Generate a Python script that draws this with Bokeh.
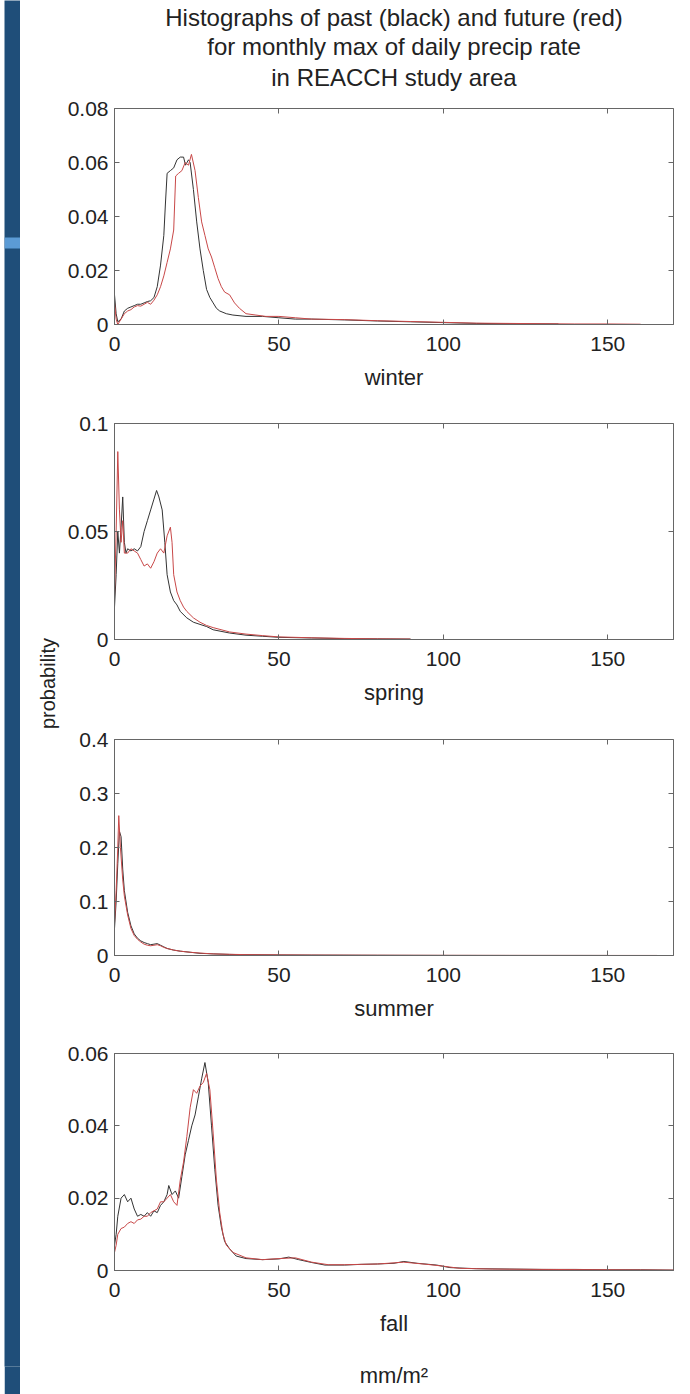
from bokeh.plotting import figure
from bokeh.layouts import row, column
from bokeh.models import Range1d, FixedTicker, NumeralTickFormatter, LinearAxis, BoxAnnotation, Title, Spacer
from bokeh.embed import file_html
from bokeh.resources import INLINE

FONT = "Liberation Sans"
BLACK = "#333333"
RED = "#c84848"

x_ticks = [0, 50, 100, 150]

title_lines = ["Histographs of past (black) and future (red)",
               "for monthly max of daily precip rate",
               "in REACCH study area"]

# ---------------- winter ----------------
winter_past_x = [0, 0.5, 1, 2, 3, 4, 5, 6, 7, 8, 9, 10, 11, 12, 13, 14, 15, 15.5, 16, 17, 18, 19, 20, 21, 21.6, 22.5, 23, 24, 25, 26, 27, 28, 29, 30, 31, 32, 34, 36, 40, 45, 50, 55, 60, 70, 80, 90, 100, 110, 120, 135]
winter_past_y = [0.011, 0.004, 0.001, 0.002, 0.005, 0.006, 0.0065, 0.007, 0.0075, 0.0075, 0.008, 0.0085, 0.0088, 0.010, 0.014, 0.022, 0.033, 0.045, 0.056, 0.057, 0.058, 0.061, 0.062, 0.062, 0.059, 0.061, 0.060, 0.050, 0.038, 0.028, 0.020, 0.013, 0.010, 0.008, 0.006, 0.005, 0.004, 0.0035, 0.003, 0.003, 0.0025, 0.002, 0.002, 0.0017, 0.0013, 0.001, 0.0007, 0.0004, 0.0003, 0.0002]
winter_future_x = [0, 0.5, 1, 2, 3, 4, 5, 6, 7, 8, 9, 10, 11, 12, 13, 14, 15, 16, 17, 18, 18.6, 19.5, 20.5, 21.5, 22.5, 23.4, 24.5, 25.5, 26.5, 27.5, 28.5, 29.5, 30.5, 31.5, 32.5, 33.5, 35, 36.5, 38, 40, 43, 46, 50, 55, 60, 70, 80, 90, 100, 110, 120, 130, 140, 150, 160]
winter_future_y = [0.008, 0.002, 0.0, 0.002, 0.004, 0.005, 0.0055, 0.0065, 0.007, 0.0068, 0.0075, 0.0082, 0.0075, 0.009, 0.011, 0.014, 0.018, 0.023, 0.028, 0.035, 0.055, 0.056, 0.057, 0.060, 0.059, 0.063, 0.057, 0.047, 0.038, 0.033, 0.028, 0.025, 0.021, 0.017, 0.014, 0.012, 0.011, 0.008, 0.006, 0.004, 0.0035, 0.003, 0.003, 0.0025, 0.002, 0.0018, 0.0014, 0.0011, 0.0008, 0.0005, 0.0004, 0.0003, 0.0002, 0.0002, 0.0001]
winter_yticks = [0, 0.02, 0.04, 0.06, 0.08]

# ---------------- spring ----------------
spring_past_x = [0, 0.5, 1, 1.5, 2, 2.5, 3, 3.5, 4, 5, 6, 7, 8, 9, 10, 11, 12, 12.8, 13.5, 14.5, 15.3, 16, 17, 18, 19, 20, 22, 24, 26, 28, 30, 35, 40, 45, 50, 60, 70, 80, 90]
spring_past_y = [0.015, 0.03, 0.05, 0.04, 0.052, 0.066, 0.045, 0.04, 0.042, 0.041, 0.042, 0.041, 0.043, 0.05, 0.055, 0.06, 0.065, 0.069, 0.066, 0.06, 0.045, 0.03, 0.022, 0.018, 0.016, 0.013, 0.01, 0.008, 0.007, 0.006, 0.0045, 0.003, 0.002, 0.0015, 0.001, 0.0007, 0.0004, 0.0003, 0.0002]
spring_future_x = [0, 0.5, 1, 1.5, 2, 2.5, 3, 4, 5, 6, 7, 8, 9, 10, 11, 12, 13, 14, 15, 16, 17, 17.5, 18, 19, 20, 21, 22, 24, 26, 28, 30, 35, 40, 45, 50, 60, 70, 80, 90]
spring_future_y = [0.02, 0.05, 0.087, 0.06, 0.045, 0.055, 0.04, 0.04, 0.042, 0.041, 0.04, 0.037, 0.034, 0.035, 0.033, 0.036, 0.04, 0.042, 0.04, 0.048, 0.052, 0.045, 0.03, 0.022, 0.018, 0.015, 0.013, 0.01, 0.008, 0.0065, 0.0055, 0.0035, 0.0025, 0.0018, 0.0012, 0.0008, 0.0005, 0.0003, 0.0002]
spring_yticks = [0, 0.05, 0.1]

# ---------------- summer ----------------
summer_past_x = [0, 0.5, 1, 1.5, 2, 2.5, 3, 4, 5, 6, 7, 8, 9, 10, 11, 12, 13, 14, 15, 16, 18, 20, 23, 26, 30, 35, 40, 50, 60, 80, 100, 120, 150]
summer_past_y = [0.05, 0.1, 0.17, 0.23, 0.22, 0.16, 0.12, 0.08, 0.055, 0.04, 0.032, 0.027, 0.024, 0.022, 0.02, 0.021, 0.022, 0.019, 0.016, 0.013, 0.01, 0.008, 0.006, 0.004, 0.003, 0.002, 0.0015, 0.001, 0.0007, 0.0004, 0.0002, 0.0001, 0.0001]
summer_future_x = [0, 0.5, 1, 1.3, 1.8, 2.5, 3, 4, 5, 6, 7, 8, 9, 10, 11, 12, 13, 14, 15, 16, 18, 20, 23, 26, 30, 35, 40, 50, 60, 80, 100, 120, 150, 165]
summer_future_y = [0.06, 0.12, 0.2, 0.259, 0.2, 0.14, 0.11, 0.075, 0.05, 0.037, 0.03, 0.025, 0.021, 0.019, 0.018, 0.019, 0.02, 0.018, 0.015, 0.013, 0.01, 0.008, 0.006, 0.0045, 0.003, 0.0022, 0.0016, 0.0011, 0.0008, 0.0005, 0.0003, 0.0002, 0.0001, 0.0001]
summer_yticks = [0, 0.1, 0.2, 0.3, 0.4]

# ---------------- fall ----------------
fall_past_x = [0, 0.5, 1, 2, 3, 4, 5, 6, 7, 8, 9, 10, 11, 12, 13, 14, 15, 16, 16.5, 17.5, 18.5, 19.5, 20.5, 21.5, 22.5, 23.5, 24.5, 25.5, 26.5, 27.5, 28.5, 29.5, 30.5, 31.5, 32.5, 33.5, 35, 37, 40, 45, 50, 53, 56, 60, 64, 70, 75, 80, 85, 88, 92, 98, 102, 110, 120, 130, 140, 150, 160, 170]
fall_past_y = [0.007, 0.01, 0.015, 0.02, 0.021, 0.019, 0.02, 0.017, 0.015, 0.0155, 0.015, 0.016, 0.015, 0.0165, 0.016, 0.018, 0.019, 0.021, 0.0235, 0.021, 0.022, 0.02, 0.026, 0.032, 0.036, 0.04, 0.043, 0.048, 0.053, 0.0575, 0.052, 0.04, 0.028, 0.018, 0.012, 0.008, 0.006, 0.004, 0.0033, 0.003, 0.0032, 0.0037, 0.003, 0.0022, 0.0015, 0.0015, 0.0017, 0.0018, 0.002, 0.0025, 0.002, 0.0015, 0.0008, 0.0005, 0.0004, 0.0003, 0.0003, 0.0002, 0.0002, 0.0001]
fall_future_x = [0, 0.5, 1, 2, 3, 4, 5, 6, 7, 8, 9, 10, 11, 12, 13, 14, 15, 16, 17, 18, 19, 20, 21, 22, 23, 24, 25, 26, 27, 28, 29, 30, 31, 32, 33, 34, 36, 40, 45, 50, 55, 60, 65, 70, 80, 88, 95, 100, 105, 115, 130, 150, 170]
fall_future_y = [0.005, 0.007, 0.01, 0.0116, 0.012, 0.013, 0.0135, 0.013, 0.014, 0.0142, 0.015, 0.015, 0.016, 0.0165, 0.017, 0.019, 0.019, 0.02, 0.021, 0.019, 0.018, 0.025, 0.03, 0.037, 0.045, 0.05, 0.049, 0.051, 0.052, 0.0545, 0.05, 0.038, 0.025, 0.016, 0.01, 0.007, 0.005, 0.0035, 0.003, 0.0033, 0.0035, 0.0023, 0.0016, 0.0016, 0.0018, 0.0023, 0.0017, 0.0012, 0.0006, 0.0004, 0.0003, 0.0002, 0.0001]
fall_yticks = [0, 0.02, 0.04, 0.06]

W = 629


def style_axis(ax, yaxis=False, labels=True):
    ax.axis_line_color = "#666666"
    ax.major_tick_line_color = "#666666"
    ax.major_tick_in = 5
    ax.major_tick_out = 0
    ax.minor_tick_line_color = None
    ax.major_label_text_font = FONT
    ax.major_label_text_color = "#222222"
    ax.axis_label_text_font = FONT
    ax.axis_label_text_font_style = "normal"
    ax.axis_label_text_color = "#222222"
    ax.axis_label_text_font_size = "22px"
    if labels:
        ax.major_label_text_font_size = "21px"
        ax.major_label_standoff = 6 if yaxis else 12
        ax.axis_label_standoff = 11
    else:
        # tick marks only: labels are not drawn
        ax.major_label_text_font_size = "1px"
        ax.major_label_text_color = None
        ax.major_label_standoff = 0
        ax.axis_line_color = None


def panel(label, xb, yb, xr, yr, ymax, yticks, height, top, bottom, fmt):
    p = figure(width=W, height=height, x_range=Range1d(0, 170), y_range=Range1d(0, ymax),
               output_backend="svg", toolbar_location=None,
               min_border_left=53, min_border_right=17, min_border_top=top, min_border_bottom=bottom)
    p.grid.visible = False
    p.outline_line_color = "#666666"
    p.background_fill_color = "white"
    p.border_fill_color = "white"
    p.line(xb, yb, color=BLACK, line_width=1)
    p.line(xr, yr, color=RED, line_width=1)
    p.xaxis.ticker = FixedTicker(ticks=x_ticks)
    p.yaxis.ticker = FixedTicker(ticks=yticks)
    p.yaxis.formatter = NumeralTickFormatter(format=fmt)
    p.xaxis.formatter = NumeralTickFormatter(format="0")
    p.xaxis.axis_label = label
    style_axis(p.xaxis[0])
    style_axis(p.yaxis[0], yaxis=True)
    top_ax = LinearAxis(ticker=FixedTicker(ticks=x_ticks))
    style_axis(top_ax, labels=False)
    p.add_layout(top_ax, "above")
    right_ax = LinearAxis(ticker=FixedTicker(ticks=yticks))
    style_axis(right_ax, labels=False)
    p.add_layout(right_ax, "right")
    return p


def style_title(t, standoff, size="24px"):
    t.align = "center"
    t.text_font = FONT
    t.text_font_size = size
    t.text_font_style = "normal"
    t.text_color = "#222222"
    t.standoff = standoff
    t.offset = 0


H1, H2, H3, H4 = 400, 315, 316, 363
TOTAL_H = H1 + H2 + H3 + H4
LAB_BOTTOM = 28

p1 = panel("winter", winter_past_x, winter_past_y, winter_future_x, winter_future_y,
           0.08, winter_yticks, H1, 108, 76, "0.[00]")
# blank title used only as a gap between the title block and the frame
gap = Title(text="\u00a0")
style_title(gap, 0, size="12px")
p1.add_layout(gap, "above")
p1.title.text = title_lines[0]
style_title(p1.title, 0)
t3 = Title(text=title_lines[2])
style_title(t3, 3)
p1.add_layout(t3, "above")
t2 = Title(text=title_lines[1])
style_title(t2, 1)
p1.add_layout(t2, "above")

p2 = panel("spring", spring_past_x, spring_past_y, spring_future_x, spring_future_y,
           0.1, spring_yticks, H2, 23, 76, "0.[00]")
p3 = panel("summer", summer_past_x, summer_past_y, summer_future_x, summer_future_y,
           0.4, summer_yticks, H3, 24, 76, "0.[0]")
p4 = panel("fall", fall_past_x, fall_past_y, fall_future_x, fall_future_y,
           0.06, fall_yticks, H4, 22, 124, "0.[00]")
unit_ax = LinearAxis(ticker=FixedTicker(ticks=[]), axis_label="mm/m²")
style_axis(unit_ax, labels=False)
unit_ax.major_tick_line_color = None
unit_ax.axis_label_standoff = 24
p4.add_layout(unit_ax, "below")

# blue side bar with light marker
bar = figure(width=16, height=TOTAL_H, x_range=Range1d(0, 1), y_range=Range1d(TOTAL_H - LAB_BOTTOM, 0),
             output_backend="svg", toolbar_location=None,
             min_border_left=0, min_border_right=0, min_border_top=0, min_border_bottom=LAB_BOTTOM)
bar.axis.visible = False
bar.grid.visible = False
bar.outline_line_color = None
bar.background_fill_color = "#1f4e79"
bar.border_fill_color = "#1f4e79"
bar.add_layout(BoxAnnotation(top=237, bottom=248, fill_color="#5b9bd5", fill_alpha=1, line_color=None))

# y label column
lab = figure(width=41, height=TOTAL_H, x_range=Range1d(0, 1), y_range=Range1d(0, 1),
             output_backend="svg", toolbar_location=None,
             min_border_left=38, min_border_right=0, min_border_top=0, min_border_bottom=LAB_BOTTOM)
lab.grid.visible = False
lab.xaxis.visible = False
lab.outline_line_color = None
lab.yaxis.ticker = FixedTicker(ticks=[])
lab.yaxis.axis_label = "probability"
lab.yaxis.major_label_text_font_size = "1px"
lab.yaxis.major_label_text_color = None
lab.yaxis.major_tick_line_color = None
lab.yaxis.minor_tick_line_color = None
lab.yaxis.axis_line_color = None
lab.yaxis.major_label_standoff = 0
lab.yaxis.axis_label_standoff = 0
lab.yaxis.axis_label_text_font = FONT
lab.yaxis.axis_label_text_font_style = "normal"
lab.yaxis.axis_label_text_font_size = "20px"
lab.yaxis.axis_label_text_color = "#222222"

layout = row(Spacer(width=4, height=TOTAL_H), bar, lab, column(p1, p2, p3, p4))

open("out.html", "w").write(file_html(layout, INLINE))
